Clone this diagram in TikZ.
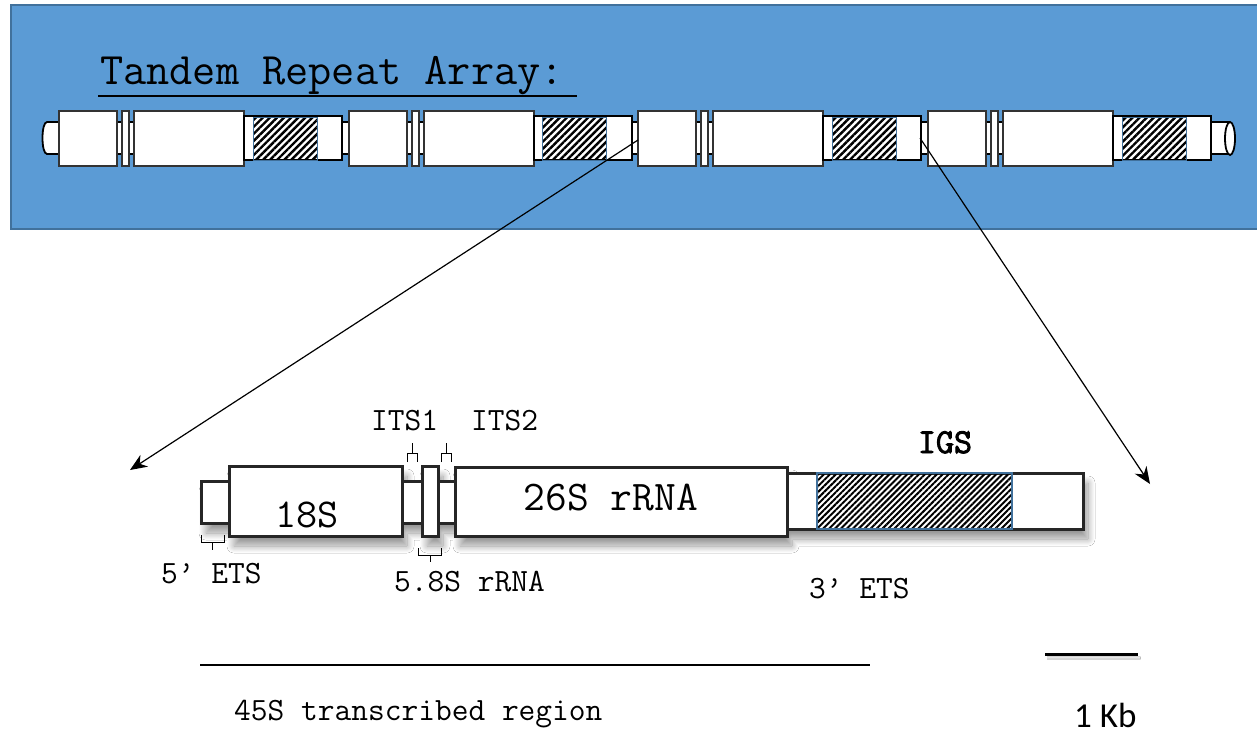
\documentclass[tikz,border=0pt]{standalone}
\usepackage{fontspec}
\newfontfamily\calfont{Carlito}
\newfontfamily\igsfont{Latin Modern Mono}[FakeBold=2.5]
\usetikzlibrary{patterns.meta,arrows.meta,shadows.blur}
\definecolor{bgblue}{HTML}{5B9BD5}
\definecolor{bgedge}{HTML}{41719C}
\definecolor{hatchedge}{HTML}{41719C}
\definecolor{boxgray}{HTML}{333333}
\tikzset{
  tbox/.style={fill=white, draw=boxgray, line width=2pt},
  ttube/.style={fill=white, draw=black, line width=2pt},
  thatch/.style={pattern={Lines[angle=45,distance=5pt,line width=2.4pt]}, draw=hatchedge, line width=1pt},
  bbox/.style={fill=white, draw=black!85, line width=3pt},
  bhatch/.style={pattern={Lines[angle=45,distance=4.2pt,line width=2pt]}, draw=hatchedge, line width=2pt},
  bshadow/.style={fill=white, draw=none, blur shadow={shadow xshift=5pt, shadow yshift=-10pt, shadow blur steps=14, shadow blur radius=7pt, shadow opacity=40}},
  lbl/.style={font=\ttfamily\fontsize{32.5}{36}\selectfont, inner sep=0pt, anchor=base west},
  brk/.style={draw=black, line width=1pt},
  pointer/.style={draw=black, line width=1.2pt, -{Stealth[length=17pt,width=14pt]}}
}
\newcommand{\repunit}[1]{%
  \draw[tbox] (#1,111) rectangle ++(58,55);
  \draw[tbox] (#1+63,111) rectangle ++(7,55);
  \draw[tbox] (#1+75,111) rectangle ++(110,55);
  \draw[ttube] (#1+185,116) rectangle ++(98,44);
  \draw[thatch] (#1+194,117) rectangle ++(64,43);
}
\begin{document}
\begin{tikzpicture}[x=1pt,y=-1pt]
\useasboundingbox (0,0) rectangle (1257,734);
\fill[white] (0,0) rectangle (1257,734);
% blue panel
\draw[fill=bgblue, draw=bgedge, line width=2pt] (11,5) rectangle (1265,229);
\node[font=\ttfamily\fontsize{45}{50}\selectfont, inner sep=0pt, anchor=base west] (title) at (100,84) {Tandem Repeat Array:};
\draw[line width=1.6pt] (98,96) coordinate (ul1) -- (577,96) coordinate (ul2);
% backbone tube
\draw[fill=white, draw=black, line width=1.8pt] (60,122) -- (47,122) .. controls (41,122) and (41,154) .. (47,154) -- (60,154);
\draw[fill=white, draw=none] (59,122) rectangle (1230,154);
\draw[black, line width=1.8pt] (59,122) -- (1230,122) (59,154) -- (1230,154);
\draw[fill=white, draw=black, line width=1.8pt] (1230,138.5) ellipse (5 and 16.5);
\repunit{59}
\repunit{348.5}
\repunit{638}
\repunit{928}
% pointers
\coordinate (s1) at (638,140);
\coordinate (e1) at (130,470);
\coordinate (s2) at (920,138);
\coordinate (e2) at (1150,484);
\draw[pointer] (s1) -- (e1);
\draw[pointer] (s2) -- (e2);
% shadow of detailed unit (one silhouette)
\path[bshadow] (201,481) -- (229,481) -- (229,466) -- (402,466) -- (402,481) -- (422,481) -- (422,466) -- (438,466) -- (438,481) -- (455,481) -- (455,467) -- (787,467) -- (787,473) -- (1083,473) -- (1083,529) -- (787,529) -- (787,536) -- (455,536) -- (455,523) -- (438,523) -- (438,536) -- (422,536) -- (422,523) -- (402,523) -- (402,536) -- (229,536) -- (229,523) -- (201,523) -- cycle;
% detailed unit
\draw[bbox] (201,481) rectangle (229,523);
\draw[bbox] (229,466) rectangle (402,536);
\draw[bbox] (402,481) rectangle (422,523);
\draw[bbox] (438,481) rectangle (456,523);
\draw[bbox] (422,466) rectangle (438,536);
\draw[bbox] (455,467) rectangle (787,536);
\draw[bbox] (787,473) rectangle (1083,529);
\draw[bhatch] (817,473) rectangle (1012,529);
% labels in boxes
\node[font=\ttfamily\fontsize{41}{45}\selectfont, inner sep=0pt, anchor=base] (t18s) at (307,527) {18S};
\node[font=\ttfamily\fontsize{42.3}{46}\selectfont, inner sep=0pt, anchor=base] (t26s) at (611,510) {26S rRNA};
\node[lbl] (its1) at (371,430) {ITS1};
\node[lbl] (its2) at (471,430) {ITS2};
\node[font=\igsfont\fontsize{35}{38}\selectfont, inner sep=0pt, anchor=base] (igs) at (945,453) {IGS};
\node[lbl] (ets5) at (161,583) {5’ ETS};
\node[lbl] (r58) at (394,591) {5.8S rRNA};
\node[lbl] (ets3) at (809,598) {3’ ETS};
\node[lbl] (t45) at (234,720) {45S transcribed region};
\node[font=\calfont\fontsize{35}{38}\selectfont, inner sep=0pt, anchor=base west] (kb) at (1074,727) {1 Kb};
% brackets
\draw[brk] (201,535) -- (201,542) -- (224,542) -- (224,535) (212,542) -- (212,550);
\draw[brk] (418,548) -- (418,555) -- (441,555) -- (441,548) (430,555) -- (430,562);
\draw[brk] (407,462) -- (407,453) -- (417,453) -- (417,462) (412,453) -- (412,443);
\draw[brk] (441,462) -- (441,453) -- (451,453) -- (451,462) (446,453) -- (446,443);
% 45S line and scale bar
\coordinate (l1) at (200,665);
\coordinate (l2) at (870,665);
\draw[line width=1.6pt] (l1) -- (l2);
\coordinate (sb1) at (1045,654);
\coordinate (sb2) at (1138,654);
\draw[line width=3pt, blur shadow={shadow xshift=2pt, shadow yshift=-4pt, shadow blur steps=6, shadow opacity=30}] (sb1) -- (sb2);
\end{tikzpicture}
\end{document}
